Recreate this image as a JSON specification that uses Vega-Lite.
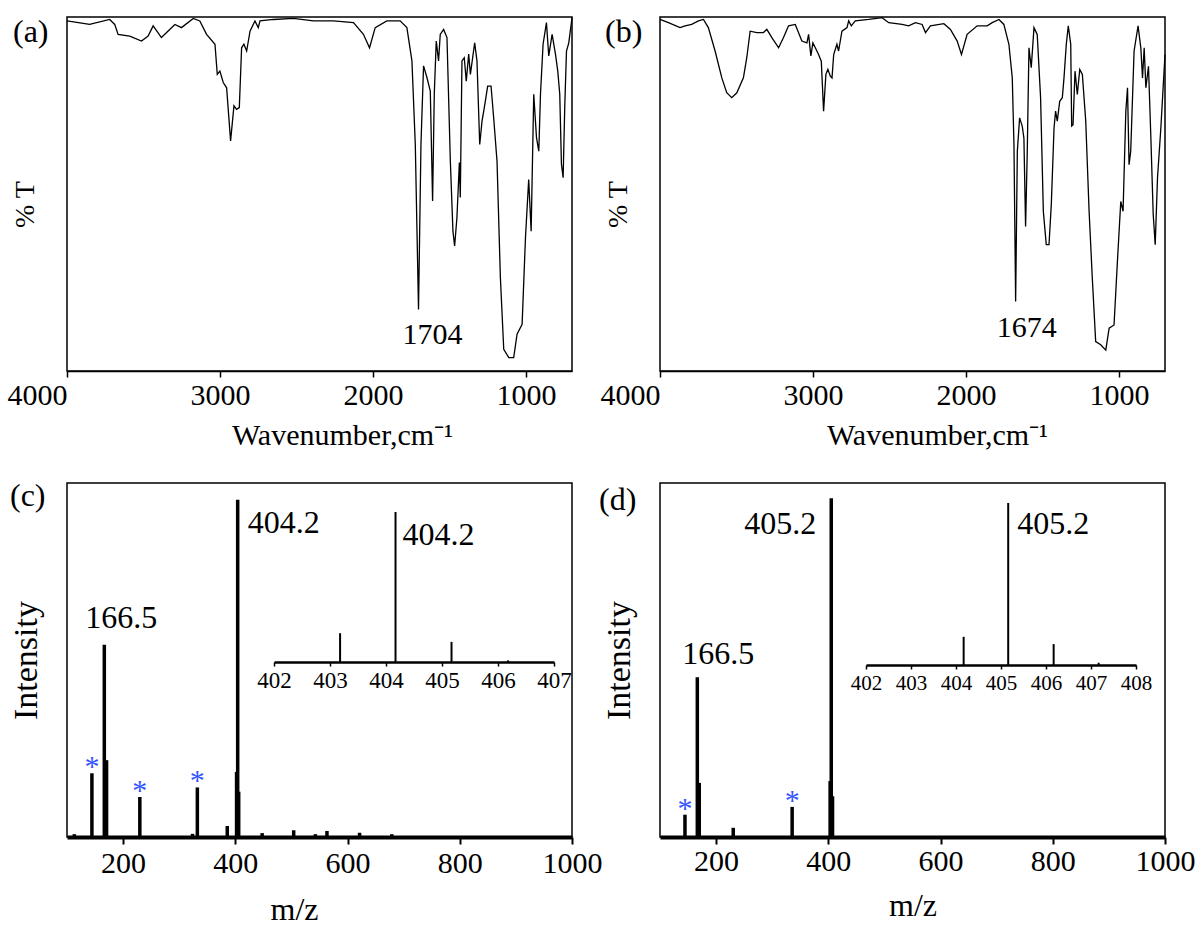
{
"$schema": "https://vega.github.io/schema/vega-lite/v6.json",
"background": "white",
"autosize": {"type": "pad"},
"padding": {"left": 6, "top": 14, "right": 0, "bottom": 0},
"config": {
 "view": {"stroke": "black", "strokeWidth": 1.5},
 "font": "Liberation Serif",
 "axis": {"grid": false, "domainColor": "black", "tickColor": "black", "labelColor": "black", "titleColor": "black", "labelFont": "Liberation Serif", "titleFont": "Liberation Serif", "titleFontWeight": "normal"},
 "title": {"font": "Liberation Serif", "fontWeight": "normal", "color": "black", "fontSize": 32, "anchor": "start", "frame": "group", "offset": 0, "baseline": "alphabetic"},
 "text": {"font": "Liberation Serif", "color": "black", "baseline": "alphabetic"}
},
"datasets": {
 "irA": [
{"w":4000,"T":98.9},{"w":3852,"T":97.9},{"w":3721,"T":99.3},{"w":3688,"T":97.9},{"w":3666,"T":95.1},{"w":3590,"T":94.6},{"w":3513,"T":93.2},{"w":3470,"T":94.6},{"w":3437,"T":97.5},{"w":3383,"T":94.2},{"w":3295,"T":97.9},{"w":3252,"T":97.0},{"w":3175,"T":99.6},{"w":3132,"T":98.9},{"w":3088,"T":95.1},{"w":3033,"T":92.3},{"w":3018,"T":83.8},{"w":3001,"T":84.7},{"w":2979,"T":81.5},{"w":2957,"T":80.0},{"w":2931,"T":65.0},{"w":2909,"T":74.9},{"w":2892,"T":73.9},{"w":2874,"T":74.4},{"w":2859,"T":91.3},{"w":2844,"T":92.3},{"w":2826,"T":90.4},{"w":2804,"T":96.0},{"w":2772,"T":98.9},{"w":2750,"T":97.0},{"w":2739,"T":98.9},{"w":2652,"T":99.3},{"w":2521,"T":99.6},{"w":2390,"T":98.9},{"w":2259,"T":98.9},{"w":2128,"T":98.4},{"w":2063,"T":95.1},{"w":2023,"T":91.3},{"w":1986,"T":97.0},{"w":1910,"T":98.9},{"w":1823,"T":98.9},{"w":1779,"T":97.0},{"w":1746,"T":87.6},{"w":1724,"T":64.0},{"w":1703,"T":17.4},{"w":1687,"T":64.0},{"w":1670,"T":86.2},{"w":1648,"T":82.9},{"w":1626,"T":79.1},{"w":1611,"T":48.0},{"w":1600,"T":78.2},{"w":1587,"T":93.2},{"w":1572,"T":87.6},{"w":1561,"T":95.1},{"w":1539,"T":96.5},{"w":1517,"T":94.2},{"w":1495,"T":59.3},{"w":1478,"T":39.5},{"w":1467,"T":35.3},{"w":1452,"T":43.3},{"w":1436,"T":58.9},{"w":1430,"T":49.0},{"w":1419,"T":87.6},{"w":1404,"T":88.5},{"w":1391,"T":81.9},{"w":1375,"T":89.5},{"w":1364,"T":83.8},{"w":1336,"T":92.7},{"w":1321,"T":87.6},{"w":1303,"T":64.0},{"w":1288,"T":70.6},{"w":1273,"T":74.4},{"w":1251,"T":80.5},{"w":1229,"T":80.5},{"w":1212,"T":71.6},{"w":1190,"T":59.3},{"w":1168,"T":26.4},{"w":1146,"T":6.1},{"w":1113,"T":3.8},{"w":1081,"T":3.8},{"w":1059,"T":10.4},{"w":1026,"T":13.2},{"w":1004,"T":37.7},{"w":983,"T":54.1},{"w":967,"T":39.5},{"w":950,"T":78.2},{"w":932,"T":65.9},{"w":917,"T":62.1},{"w":906,"T":78.2},{"w":889,"T":92.3},{"w":867,"T":98.4},{"w":852,"T":89.0},{"w":830,"T":95.1},{"w":808,"T":89.5},{"w":793,"T":84.7},{"w":780,"T":78.2},{"w":769,"T":58.4},{"w":758,"T":54.6},{"w":747,"T":75.3},{"w":736,"T":90.4},{"w":721,"T":92.7},{"w":700,"T":99.8}
 ],
 "irB": [
{"w":4000,"T":99.3},{"w":3945,"T":98.4},{"w":3869,"T":97.0},{"w":3836,"T":97.5},{"w":3793,"T":97.9},{"w":3749,"T":98.9},{"w":3716,"T":99.3},{"w":3684,"T":97.0},{"w":3640,"T":90.4},{"w":3596,"T":82.8},{"w":3564,"T":78.6},{"w":3531,"T":77.2},{"w":3498,"T":78.6},{"w":3455,"T":82.8},{"w":3433,"T":88.5},{"w":3411,"T":96.0},{"w":3367,"T":95.6},{"w":3324,"T":95.6},{"w":3302,"T":96.5},{"w":3269,"T":94.2},{"w":3225,"T":91.3},{"w":3193,"T":94.2},{"w":3160,"T":97.5},{"w":3116,"T":97.9},{"w":3073,"T":93.2},{"w":3040,"T":92.7},{"w":3029,"T":95.1},{"w":3014,"T":89.0},{"w":3001,"T":92.7},{"w":2985,"T":91.3},{"w":2964,"T":89.4},{"w":2946,"T":87.5},{"w":2931,"T":73.4},{"w":2916,"T":83.8},{"w":2903,"T":85.2},{"w":2887,"T":83.3},{"w":2876,"T":82.8},{"w":2865,"T":89.4},{"w":2844,"T":92.3},{"w":2833,"T":90.4},{"w":2811,"T":96.0},{"w":2778,"T":97.0},{"w":2767,"T":98.9},{"w":2750,"T":97.5},{"w":2724,"T":98.9},{"w":2636,"T":99.3},{"w":2549,"T":99.8},{"w":2505,"T":98.4},{"w":2418,"T":97.9},{"w":2375,"T":97.5},{"w":2331,"T":98.4},{"w":2287,"T":97.9},{"w":2265,"T":95.6},{"w":2233,"T":97.5},{"w":2145,"T":98.1},{"w":2102,"T":96.5},{"w":2058,"T":93.2},{"w":2030,"T":89.4},{"w":1993,"T":95.1},{"w":1927,"T":97.5},{"w":1862,"T":97.5},{"w":1829,"T":98.4},{"w":1785,"T":99.3},{"w":1753,"T":97.9},{"w":1720,"T":92.3},{"w":1698,"T":82.8},{"w":1687,"T":64.0},{"w":1676,"T":19.6},{"w":1665,"T":62.1},{"w":1650,"T":71.5},{"w":1633,"T":69.2},{"w":1622,"T":65.8},{"w":1611,"T":40.8},{"w":1600,"T":62.1},{"w":1589,"T":91.3},{"w":1574,"T":85.7},{"w":1556,"T":97.0},{"w":1535,"T":95.1},{"w":1513,"T":77.2},{"w":1495,"T":45.1},{"w":1476,"T":35.7},{"w":1458,"T":35.7},{"w":1443,"T":47.0},{"w":1425,"T":68.7},{"w":1415,"T":73.4},{"w":1404,"T":70.6},{"w":1388,"T":76.2},{"w":1371,"T":77.2},{"w":1360,"T":82.8},{"w":1345,"T":92.3},{"w":1332,"T":97.5},{"w":1316,"T":92.3},{"w":1310,"T":69.2},{"w":1301,"T":69.6},{"w":1288,"T":84.7},{"w":1273,"T":78.1},{"w":1257,"T":85.2},{"w":1240,"T":83.8},{"w":1218,"T":70.6},{"w":1196,"T":45.1},{"w":1175,"T":26.2},{"w":1153,"T":8.3},{"w":1120,"T":7.4},{"w":1087,"T":5.9},{"w":1065,"T":12.1},{"w":1033,"T":13.0},{"w":1011,"T":30.9},{"w":989,"T":47.9},{"w":974,"T":45.1},{"w":956,"T":73.4},{"w":945,"T":80.0},{"w":935,"T":58.3},{"w":924,"T":62.1},{"w":902,"T":90.4},{"w":876,"T":97.5},{"w":858,"T":91.3},{"w":847,"T":82.8},{"w":836,"T":91.3},{"w":825,"T":80.0},{"w":808,"T":86.1},{"w":793,"T":66.8},{"w":777,"T":44.2},{"w":764,"T":35.7},{"w":749,"T":54.5},{"w":727,"T":68.7},{"w":700,"T":89.4}
 ],
 "msC": [
{"mz":113,"I":0.8},{"mz":144.4,"I":18.0},{"mz":166.5,"I":54.3},{"mz":170.5,"I":21.7},{"mz":229.8,"I":11.3},{"mz":323.7,"I":0.9},{"mz":332.3,"I":14.0},{"mz":385.6,"I":3.1},{"mz":402.2,"I":18.4},{"mz":404.2,"I":95.3},{"mz":406.0,"I":12.8},{"mz":447.8,"I":1.1},{"mz":504,"I":1.9},{"mz":542.6,"I":0.8},{"mz":563.3,"I":1.7},{"mz":621.4,"I":1.2},{"mz":678.9,"I":0.8}
 ],
 "msD": [
{"mz":144.5,"I":6.3},{"mz":166.5,"I":45.1},{"mz":170.0,"I":15.3},{"mz":230.5,"I":2.6},{"mz":335.5,"I":8.5},{"mz":403.2,"I":15.8},{"mz":405.2,"I":95.7},{"mz":407.5,"I":11.5}
 ],
 "inC": [
{"mz":403.18,"I":19.2},{"mz":404.17,"I":100},{"mz":405.17,"I":13.4},{"mz":406.18,"I":1.1}
 ],
 "inD": [
{"mz":404.17,"I":17.4},{"mz":405.16,"I":100},{"mz":406.17,"I":12.9},{"mz":407.17,"I":1.4}
 ]
},
"columns": 2,
"spacing": {"row": 112, "column": 88},
"bounds": "flush",
"concat": [
  {"width": 505, "height": 354,
   "title": {"text": "(a)", "dx": -54, "dy": 38},
   "layer": [
    {"data": {"name": "irA"}, "mark": {"type": "line", "color": "black", "strokeWidth": 1.3},
     "encoding": {
      "x": {"field": "w", "type": "quantitative", "scale": {"domain": [4000, 700], "nice": false},
            "axis": {"title": "Wavenumber,cm⁻¹", "titleX": 275, "values": [4000, 3000, 2000, 1000], "format": "d", "tickSize": 6, "tickWidth": 1.5, "domainWidth": 1.5, "labelFontSize": 30, "labelPadding": 3, "titleFontSize": 30, "titlePadding": 10, "labelFlush": false, "labelOverlap": false, "labelAlign": {"condition": {"test": "datum.value == 4000", "value": "right"}, "value": "center"}}},
      "y": {"field": "T", "type": "quantitative", "scale": {"domain": [0, 100], "nice": false},
            "axis": {"title": "% T", "titleY": 187, "labels": false, "ticks": false, "domain": false, "titleFontSize": 28, "titlePadding": 28}}
     }},
    {"data": {"values": [{"w": 1703, "T": 17.4, "label": "1704"}]},
     "mark": {"type": "text", "align": "center", "dx": 14, "dy": 35, "fontSize": 30},
     "encoding": {"x": {"field": "w", "type": "quantitative"}, "y": {"field": "T", "type": "quantitative"}, "text": {"field": "label"}}}
   ]},
  {"width": 505, "height": 354,
   "title": {"text": "(b)", "dx": -55, "dy": 38},
   "layer": [
    {"data": {"name": "irB"}, "mark": {"type": "line", "color": "black", "strokeWidth": 1.3},
     "encoding": {
      "x": {"field": "w", "type": "quantitative", "scale": {"domain": [4000, 700], "nice": false},
            "axis": {"title": "Wavenumber,cm⁻¹", "titleX": 277, "values": [4000, 3000, 2000, 1000], "format": "d", "tickSize": 6, "tickWidth": 1.5, "domainWidth": 1.5, "labelFontSize": 30, "labelPadding": 3, "titleFontSize": 30, "titlePadding": 10, "labelFlush": false, "labelOverlap": false, "labelAlign": {"condition": {"test": "datum.value == 4000", "value": "right"}, "value": "center"}}},
      "y": {"field": "T", "type": "quantitative", "scale": {"domain": [0, 100], "nice": false},
            "axis": {"title": "% T", "titleY": 187, "labels": false, "ticks": false, "domain": false, "titleFontSize": 28, "titlePadding": 28}}
     }},
    {"data": {"values": [{"w": 1676, "T": 19.6, "label": "1674"}]},
     "mark": {"type": "text", "align": "center", "dx": 11, "dy": 35, "fontSize": 30},
     "encoding": {"x": {"field": "w", "type": "quantitative"}, "y": {"field": "T", "type": "quantitative"}, "text": {"field": "label"}}}
   ]},
  {"width": 505, "height": 354,
   "title": {"text": "(c)", "dx": -57, "dy": 34},
   "layer": [
    {"layer": [
     {"data": {"name": "msC"}, "mark": {"type": "rule", "strokeWidth": 3.5, "color": "black"},
      "encoding": {
       "x": {"field": "mz", "type": "quantitative", "scale": {"domain": [100, 1000], "nice": false},
             "axis": {"title": "m/z", "titleX": 227, "values": [200, 400, 600, 800, 1000], "format": "d", "tickSize": 7, "tickWidth": 2, "domainWidth": 4, "labelFontSize": 30, "labelPadding": 4, "titleFontSize": 32, "titlePadding": 16, "labelFlush": false, "labelOverlap": false}},
       "y": {"field": "I", "type": "quantitative", "scale": {"domain": [0, 100], "nice": false},
             "axis": {"title": "Intensity", "labels": false, "ticks": false, "domain": false, "titleFontSize": 34, "titlePadding": 24}},
       "y2": {"datum": 0}
      }},
     {"data": {"values": [{"mz": 404.2, "I": 95.3, "label": "404.2"}]},
      "mark": {"type": "text", "align": "left", "dx": 10, "dy": 33, "fontSize": 32},
      "encoding": {"x": {"field": "mz", "type": "quantitative"}, "y": {"field": "I", "type": "quantitative"}, "text": {"field": "label"}}},
     {"data": {"values": [{"mz": 166.5, "I": 54.3, "label": "166.5"}]},
      "mark": {"type": "text", "align": "center", "dx": 17, "dy": -17, "fontSize": 32},
      "encoding": {"x": {"field": "mz", "type": "quantitative"}, "y": {"field": "I", "type": "quantitative"}, "text": {"field": "label"}}},
     {"data": {"values": [{"mz": 144.4, "I": 18.0}, {"mz": 229.8, "I": 11.3}, {"mz": 332.3, "I": 14.0}]},
      "mark": {"type": "text", "text": "*", "align": "center", "dy": 3, "fontSize": 30, "color": "#3355ff"},
      "encoding": {"x": {"field": "mz", "type": "quantitative"}, "y": {"field": "I", "type": "quantitative"}}}
    ]},
    {"layer": [
     {"data": {"name": "inC"}, "mark": {"type": "rule", "strokeWidth": 2, "color": "black"},
      "encoding": {
       "x": {"field": "mz", "type": "quantitative", "scale": {"domain": [402, 407], "nice": false, "range": [207, 487]},
             "axis": {"orient": "bottom", "offset": -175, "title": null, "values": [402, 403, 404, 405, 406, 407], "format": "d", "tickSize": 4, "tickWidth": 1.5, "domainWidth": 2.5, "labelFontSize": 23, "labelPadding": 3, "labelFlush": false, "labelOverlap": false}},
       "y": {"field": "I", "type": "quantitative", "scale": {"domain": [0, 100], "nice": false, "range": [179, 29]}, "axis": null},
       "y2": {"datum": 0}
      }},
     {"data": {"values": [{"mz": 404.17, "I": 100, "label": "404.2"}]},
      "mark": {"type": "text", "align": "left", "dx": 7, "dy": 33, "fontSize": 32},
      "encoding": {"x": {"field": "mz", "type": "quantitative"}, "y": {"field": "I", "type": "quantitative"}, "text": {"field": "label"}}}
    ]}
   ],
   "resolve": {"scale": {"x": "independent", "y": "independent"}, "axis": {"x": "independent", "y": "independent"}}
  },
  {"width": 505, "height": 354,
   "title": {"text": "(d)", "dx": -61, "dy": 38},
   "layer": [
    {"layer": [
     {"data": {"name": "msD"}, "mark": {"type": "rule", "strokeWidth": 3.5, "color": "black"},
      "encoding": {
       "x": {"field": "mz", "type": "quantitative", "scale": {"domain": [100, 1000], "nice": false},
             "axis": {"title": "m/z", "values": [200, 400, 600, 800, 1000], "format": "d", "tickSize": 7, "tickWidth": 2, "domainWidth": 4, "labelFontSize": 30, "labelPadding": 2, "titleFontSize": 32, "titlePadding": 14, "labelFlush": false, "labelOverlap": false}},
       "y": {"field": "I", "type": "quantitative", "scale": {"domain": [0, 100], "nice": false},
             "axis": {"title": "Intensity", "labels": false, "ticks": false, "domain": false, "titleFontSize": 34, "titlePadding": 24}},
       "y2": {"datum": 0}
      }},
     {"data": {"values": [{"mz": 405.2, "I": 95.7, "label": "405.2"}]},
      "mark": {"type": "text", "align": "right", "dx": -15, "dy": 36, "fontSize": 32},
      "encoding": {"x": {"field": "mz", "type": "quantitative"}, "y": {"field": "I", "type": "quantitative"}, "text": {"field": "label"}}},
     {"data": {"values": [{"mz": 166.5, "I": 45.1, "label": "166.5"}]},
      "mark": {"type": "text", "align": "center", "dx": 21, "dy": -13, "fontSize": 32},
      "encoding": {"x": {"field": "mz", "type": "quantitative"}, "y": {"field": "I", "type": "quantitative"}, "text": {"field": "label"}}},
     {"data": {"values": [{"mz": 144.5, "I": 6.3}, {"mz": 335.5, "I": 8.5}]},
      "mark": {"type": "text", "text": "*", "align": "center", "dy": 3, "fontSize": 30, "color": "#3355ff"},
      "encoding": {"x": {"field": "mz", "type": "quantitative"}, "y": {"field": "I", "type": "quantitative"}}}
    ]},
    {"layer": [
     {"data": {"name": "inD"}, "mark": {"type": "rule", "strokeWidth": 2, "color": "black"},
      "encoding": {
       "x": {"field": "mz", "type": "quantitative", "scale": {"domain": [402, 408], "nice": false, "range": [206, 476]},
             "axis": {"orient": "bottom", "offset": -172, "title": null, "values": [402, 403, 404, 405, 406, 407, 408], "format": "d", "tickSize": 4, "tickWidth": 1.5, "domainWidth": 2.5, "labelFontSize": 21, "labelPadding": 3, "labelFlush": false, "labelOverlap": false}},
       "y": {"field": "I", "type": "quantitative", "scale": {"domain": [0, 100], "nice": false, "range": [182, 20]}, "axis": null},
       "y2": {"datum": 0}
      }},
     {"data": {"values": [{"mz": 405.16, "I": 100, "label": "405.2"}]},
      "mark": {"type": "text", "align": "left", "dx": 9, "dy": 31, "fontSize": 32},
      "encoding": {"x": {"field": "mz", "type": "quantitative"}, "y": {"field": "I", "type": "quantitative"}, "text": {"field": "label"}}}
    ]}
   ],
   "resolve": {"scale": {"x": "independent", "y": "independent"}, "axis": {"x": "independent", "y": "independent"}}
  }
]
}
